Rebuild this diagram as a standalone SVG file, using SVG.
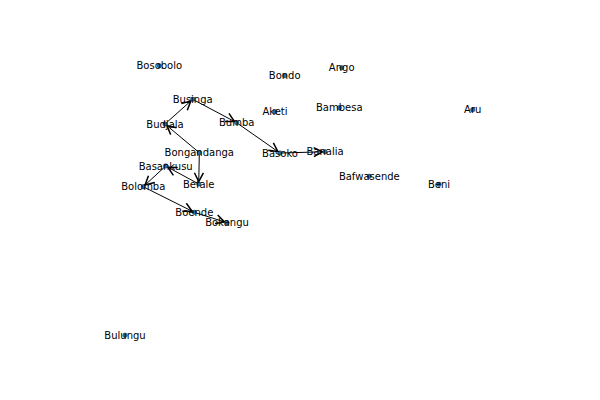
<svg xmlns="http://www.w3.org/2000/svg" width="600" height="400" viewBox="0 0 600 400">
<defs>
<marker id="arr" markerUnits="userSpaceOnUse" markerWidth="12" markerHeight="12" refX="0" refY="0" viewBox="-7 -4 8 8" orient="auto" overflow="visible">
<path d="M-5.8,-3 L0,0 L-5.8,3" fill="none" stroke="#000" stroke-width="1"/>
</marker>
<style>
.e{stroke:#000;stroke-width:1;fill:none;marker-end:url(#arr)}
.n circle{fill:#1f78b4;stroke:#0a2a40;stroke-width:0.5}
.n text{font-family:"DejaVu Sans",sans-serif;font-size:10px;fill:#000;text-anchor:middle}
</style>
</defs>
<rect width="600" height="400" fill="#fff"/>
<g id="edges">
<line class="e" x1="166.1" y1="123.0" x2="190.8" y2="101.0"/>
<line class="e" x1="194.0" y1="100.0" x2="234.5" y2="121.5"/>
<line class="e" x1="198.1" y1="151.7" x2="166.9" y2="125.6"/>
<line class="e" x1="237.9" y1="123.6" x2="277.9" y2="151.6"/>
<line class="e" x1="281.5" y1="153.0" x2="322.5" y2="151.8"/>
<line class="e" x1="199.3" y1="154.2" x2="198.75" y2="181.5"/>
<line class="e" x1="197.4" y1="183.3" x2="167.9" y2="167.2"/>
<line class="e" x1="164.6" y1="167.0" x2="145.1" y2="185.0"/>
<line class="e" x1="144.6" y1="187.4" x2="192.1" y2="211.2"/>
<line class="e" x1="195.7" y1="212.8" x2="224.6" y2="221.9"/>
</g>
<g id="n-Bosobolo" class="n"><circle cx="159.3" cy="65.7" r="2.2"/><text x="159.3" y="69.4">Bosobolo</text></g>
<g id="n-Businga" class="n"><circle cx="192.7" cy="99.3" r="2.2"/><text x="192.7" y="103.0">Businga</text></g>
<g id="n-Budjala" class="n"><circle cx="165" cy="124" r="2.2"/><text x="165" y="127.7">Budjala</text></g>
<g id="n-Bumba" class="n"><circle cx="236.7" cy="122.7" r="2.2"/><text x="236.7" y="126.4">Bumba</text></g>
<g id="n-Bongandanga" class="n"><circle cx="199.3" cy="152.7" r="2.2"/><text x="199.3" y="156.4">Bongandanga</text></g>
<g id="n-Basankusu" class="n"><circle cx="165.7" cy="166" r="2.2"/><text x="165.7" y="169.7">Basankusu</text></g>
<g id="n-Bolomba" class="n"><circle cx="143.3" cy="186.7" r="2.2"/><text x="143.3" y="190.4">Bolomba</text></g>
<g id="n-Befale" class="n"><circle cx="198.7" cy="184" r="2.2"/><text x="198.7" y="187.7">Befale</text></g>
<g id="n-Boende" class="n"><circle cx="194.3" cy="212.3" r="2.2"/><text x="194.3" y="216.0">Boende</text></g>
<g id="n-Bokangu" class="n"><circle cx="227" cy="222.7" r="2.2"/><text x="227" y="226.4">Bokangu</text></g>
<g id="n-Bondo" class="n"><circle cx="284.7" cy="75.7" r="2.2"/><text x="284.7" y="79.4">Bondo</text></g>
<g id="n-Ango" class="n"><circle cx="341.7" cy="67.7" r="2.2"/><text x="341.7" y="71.4">Ango</text></g>
<g id="n-Aketi" class="n"><circle cx="275" cy="111.7" r="2.2"/><text x="275" y="115.4">Aketi</text></g>
<g id="n-Bambesa" class="n"><circle cx="339.3" cy="107.7" r="2.2"/><text x="339.3" y="111.4">Bambesa</text></g>
<g id="n-Basoko" class="n"><circle cx="280" cy="153" r="2.2"/><text x="280" y="156.7">Basoko</text></g>
<g id="n-Banalia" class="n"><circle cx="325" cy="151.7" r="2.2"/><text x="325" y="155.4">Banalia</text></g>
<g id="n-Aru" class="n"><circle cx="472.7" cy="109.7" r="2.2"/><text x="472.7" y="113.4">Aru</text></g>
<g id="n-Bafwasende" class="n"><circle cx="369.3" cy="176.3" r="2.2"/><text x="369.3" y="180.0">Bafwasende</text></g>
<g id="n-Beni" class="n"><circle cx="439" cy="184.3" r="2.2"/><text x="439" y="188.0">Beni</text></g>
<g id="n-Bulungu" class="n"><circle cx="125" cy="335.3" r="2.2"/><text x="125" y="339.0">Bulungu</text></g>
</svg>
